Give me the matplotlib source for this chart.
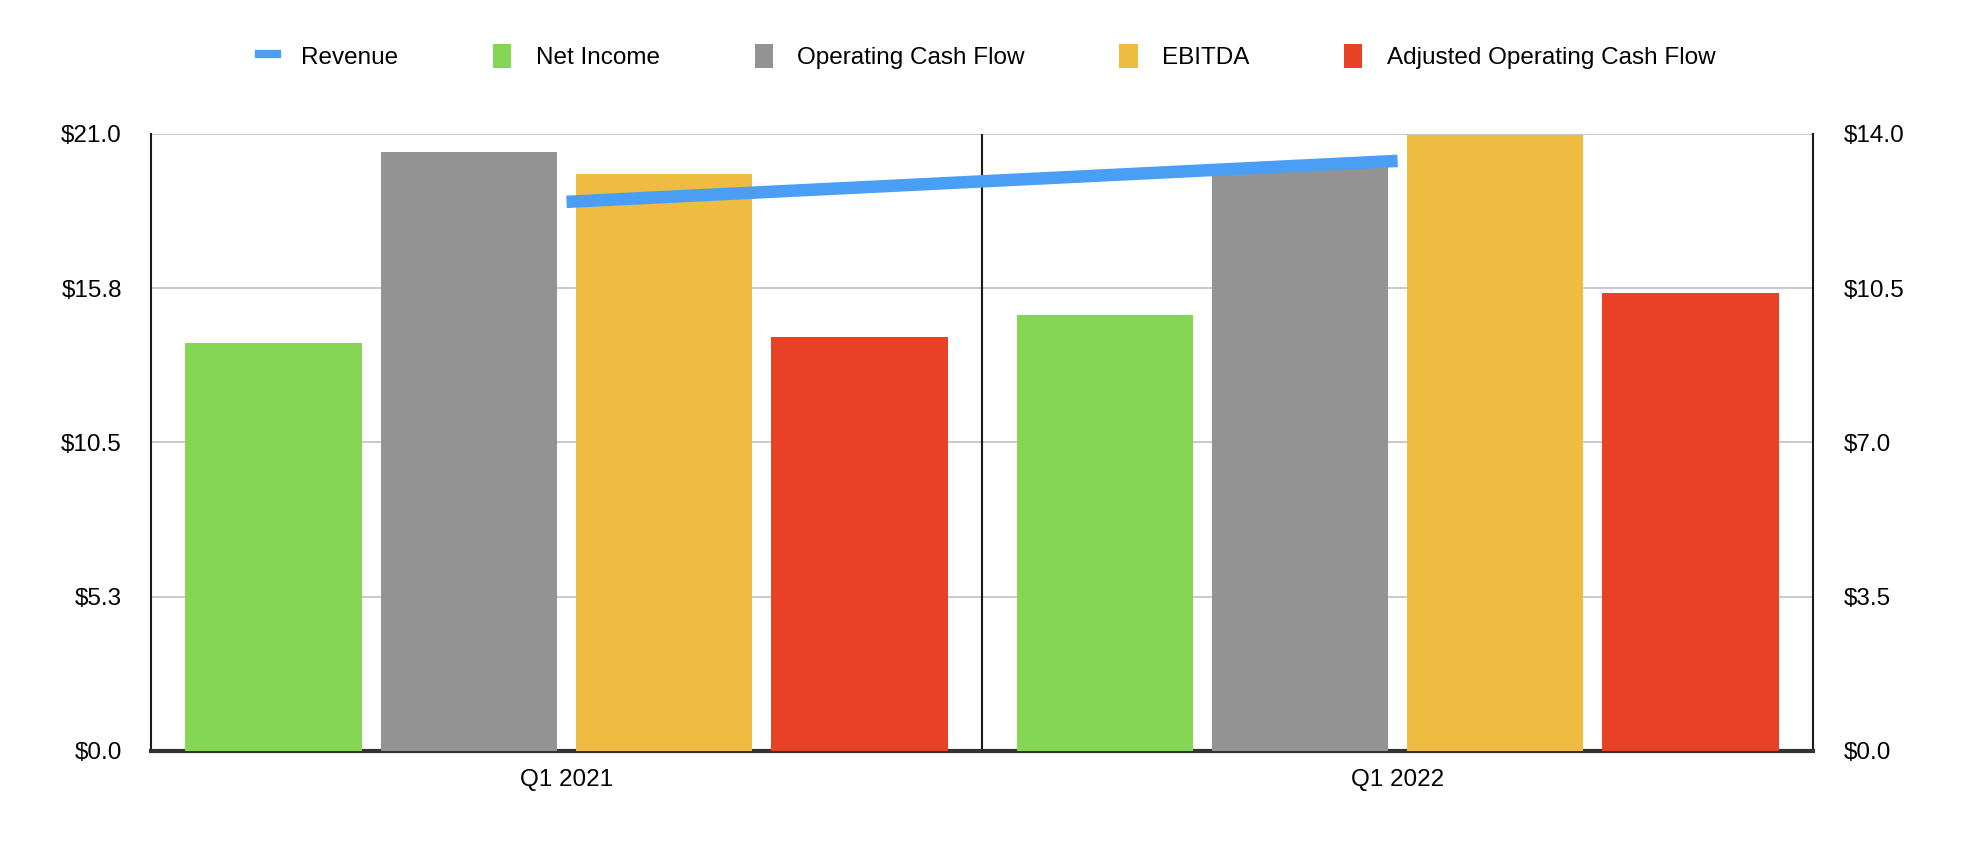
import numpy as np
import matplotlib.pyplot as plt
from matplotlib.lines import Line2D
from matplotlib.patches import Patch

plt.rcParams['font.family'] = ['Liberation Sans', 'DejaVu Sans']

quarters = ['Q1 2021', 'Q1 2022']
net_income = [13.9, 14.83]
operating_cash_flow = [20.37, 19.9]
ebitda = [19.63, 20.95]
adjusted_ocf = [14.08, 15.58]
revenue = [12.46, 13.39]

left_ticks = [0, 5.25, 10.5, 15.75, 21]
left_labels = ['$0.0', '$5.3', '$10.5', '$15.8', '$21.0']
right_ticks = [0, 3.5, 7, 10.5, 14]
right_labels = ['$0.0', '$3.5', '$7.0', '$10.5', '$14.0']

bar_series = [
    ('Net Income', net_income, '#84D654'),
    ('Operating Cash Flow', operating_cash_flow, '#939393'),
    ('EBITDA', ebitda, '#EEBC40'),
    ('Adjusted Operating Cash Flow', adjusted_ocf, '#E94125'),
]
line_color = '#4A9FF5'

fig = plt.figure(figsize=(19.74, 8.48), dpi=100)
ax = fig.add_axes([0.0765, 0.1144, 0.8420, 0.7276])

x = np.arange(len(quarters))
step = 0.235
width = 0.212
for i, (name, vals, col) in enumerate(bar_series):
    ax.bar(x + (i - 1.5) * step, vals, width=width, color=col, zorder=3)

ax.set_xlim(-0.5, 1.5)
ax.set_ylim(0, 21)
ax.set_yticks(left_ticks)
ax.set_yticklabels(left_labels)
ax.set_xticks(x)
ax.set_xticklabels(quarters)
ax.tick_params(axis='y', length=0, pad=21, labelsize=17.5)
ax.tick_params(axis='x', length=0, pad=13, labelsize=17.5)
ax.grid(axis='y', color='#C0C0C0', linewidth=1.2, zorder=0)
ax.axvline(0.5, color='#1a1a1a', linewidth=1.5, zorder=4)

for side in ['left', 'right']:
    ax.spines[side].set_color('#1a1a1a')
    ax.spines[side].set_linewidth(1.5)
ax.spines['bottom'].set_color('#333333')
ax.spines['bottom'].set_linewidth(3)
ax.spines['top'].set_visible(False)

ax2 = ax.twinx()
ax2.plot(x, revenue, color=line_color, linewidth=9, solid_capstyle='butt', zorder=5)
ax2.set_ylim(0, 14)
ax2.set_yticks(right_ticks)
ax2.set_yticklabels(right_labels)
ax2.tick_params(axis='y', length=0, pad=22, labelsize=17.5)
for side in ['top', 'left', 'right', 'bottom']:
    ax2.spines[side].set_visible(False)

handles = [Line2D([0], [0], color=line_color, linewidth=6)]
labels = ['Revenue']
for name, vals, col in bar_series:
    handles.append(Patch(facecolor=col))
    labels.append(name)
fig.legend(handles, labels, loc='center', bbox_to_anchor=(0.5, 0.933), ncol=5,
           frameon=False, fontsize=17.5, handlelength=0.75, handleheight=1.1,
           handletextpad=1.0, columnspacing=3.9)

fig.savefig('out.png', dpi=100, facecolor='white')
